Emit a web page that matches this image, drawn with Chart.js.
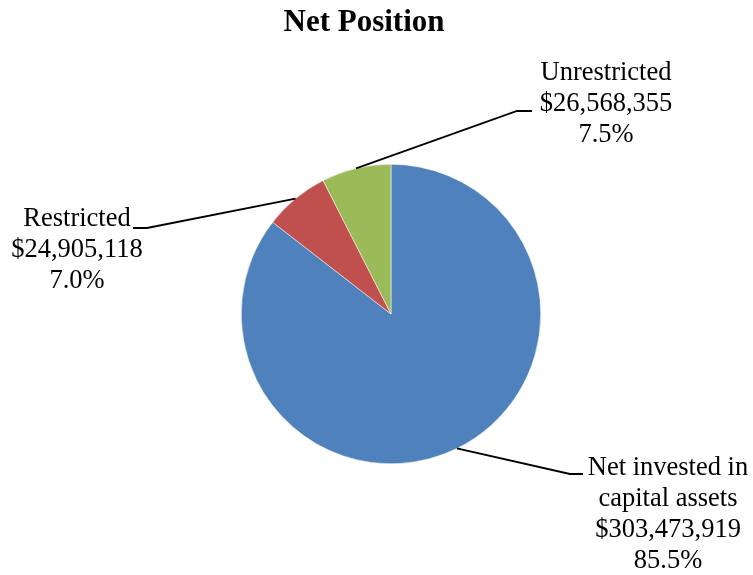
<!DOCTYPE html>
<html>
<head>
<meta charset="utf-8">
<script src="https://cdn.jsdelivr.net/npm/chart.js@4"></script>
<style>
  body { margin: 0; background: #fff; }
</style>
</head>
<body>
<canvas id="Pie-Chart" width="753" height="575"></canvas>
<script>
let labels = ['Net invested in capital assets', 'Restricted', 'Unrestricted'];
let values = [303473919, 24905118, 26568355];
let colors = ['#4F81BD', '#C0504D', '#9BBB59'];

// how each label is wrapped and where its text block sits
let labelLines = [['Net invested in', 'capital assets'], ['Restricted'], ['Unrestricted']];
let labelBoxes = [
  {x: 668, y: 468, elbowX: 570, endX: 583, elbowY: 474},
  {x: 77,  y: 219, elbowX: 147, endX: 133, elbowY: 228},
  {x: 606, y: 73,  elbowX: 517, endX: 532, elbowY: 111}
];

let total = values.reduce((a, b) => a + b, 0);

function money(v) {
  return '$' + v.toLocaleString('en-US');
}

let pieLabels = {
  id: 'pieLabels',
  afterDraw(chart) {
    let ctx = chart.ctx;
    let arcs = chart.getDatasetMeta(0).data;
    ctx.save();

    // title
    ctx.fillStyle = '#000';
    ctx.font = 'bold 31px "Liberation Serif"';
    ctx.textAlign = 'center';
    ctx.textBaseline = 'middle';
    ctx.fillText('Net Position', 364, 23);

    ctx.font = '26.5px "Liberation Serif"';
    arcs.forEach((arc, i) => {
      let p = arc.getProps(['x', 'y', 'startAngle', 'endAngle', 'outerRadius'], true);
      let mid = (p.startAngle + p.endAngle) / 2;
      let ax = p.x + Math.cos(mid) * p.outerRadius;
      let ay = p.y + Math.sin(mid) * p.outerRadius;
      let b = labelBoxes[i];

      // leader line
      ctx.strokeStyle = '#000';
      ctx.lineWidth = 1.8;
      ctx.beginPath();
      ctx.moveTo(ax, ay);
      ctx.lineTo(b.elbowX, b.elbowY);
      ctx.lineTo(b.endX, b.elbowY);
      ctx.stroke();

      let lines = labelLines[i].concat([money(values[i]), (values[i] / total * 100).toFixed(1) + '%']);
      lines.forEach((t, k) => {
        ctx.fillText(t, b.x, b.y + k * 31);
      });
    });
    ctx.restore();
  }
};

let chart = new Chart(document.getElementById('Pie-Chart').getContext('2d'), {
  type: 'pie',
  data: {
    labels: labels,
    datasets: [{
      data: values,
      backgroundColor: colors,
      borderWidth: 0.5,
      borderColor: '#ffffff'
    }]
  },
  options: {
    responsive: false,
    animation: false,
    layout: {
      padding: {left: 241, right: 212, top: 164, bottom: 111}
    },
    plugins: {
      legend: {display: false},
      title: {display: false},
      tooltip: {enabled: false}
    }
  },
  plugins: [pieLabels]
});
</script>
</body>
</html>
